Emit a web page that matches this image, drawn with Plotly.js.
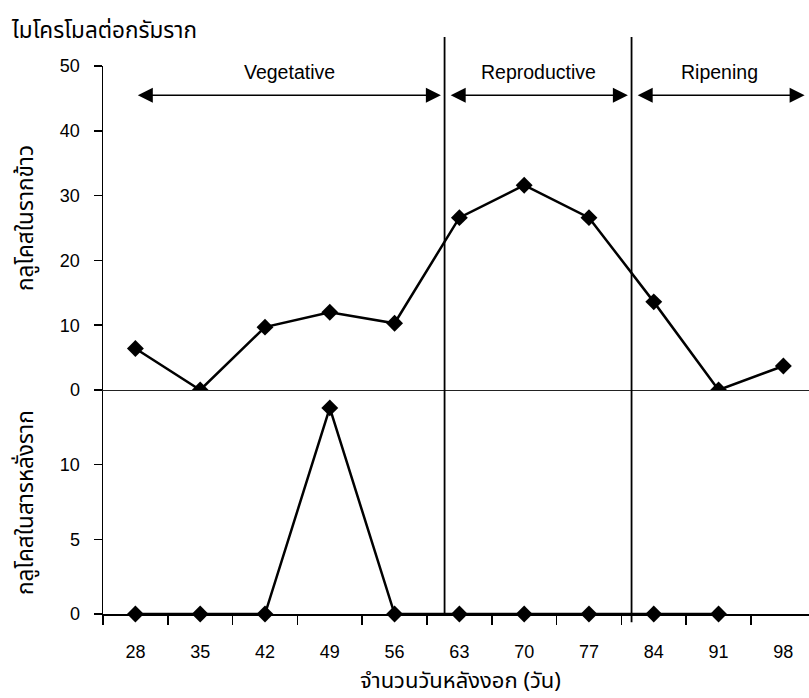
<!DOCTYPE html>
<html>
<head>
<meta charset="utf-8">
<script src="https://cdn.plot.ly/plotly-3.0.1.min.js"></script>
<style>html,body{margin:0;padding:0;background:#fff}#chart{width:809px;height:698px}</style>
</head>
<body>
<div id="chart"></div>
<script>
// ---- data ----
const daysRoot = [28, 35, 42, 49, 56, 63, 70, 77, 84, 91, 98];
const glucoseRoot = [6.4, 0, 9.7, 12.0, 10.3, 26.6, 31.6, 26.6, 13.6, 0, 3.7];
const daysExudate = [28, 35, 42, 49, 56, 63, 70, 77, 84, 91];
const glucoseExudate = [0, 0, 0, 13.8, 0, 0, 0, 0, 0, 0];
const xTickVals = [28, 35, 42, 49, 56, 63, 70, 77, 84, 91, 98];
const topTickVals = [0, 10, 20, 30, 40, 50];
const bottomTickVals = [0, 5, 10];
const phaseNames = ['Vegetative', 'Reproductive', 'Ripening'];
const phaseStart = [28, 61.4, 81.6];
const phaseEnd = [61.4, 81.6, 100.7];
const boundaries = [61.4, 81.6];

const mainTitle = 'ไมโครโมลต่อกรัมราก';
const topYTitle = 'กลูโคสในรากข้าว';
const bottomYTitle = 'กลูโคสในสารหลั่งราก';
const xTitle = 'จำนวนวันหลังงอก (วัน)';

// ---- styling ----
const latin = 'Liberation Sans, Arial, sans-serif';
const thai = 'Noto Sans Thai, Noto Sans, DejaVu Sans, sans-serif';
const black = '#000';
const split = 224 / 548;
const thaiSize = 22.5;

const markerStyle = {symbol: 'diamond', size: 13, color: black};
const lineStyle = {color: black, width: 2.5};

const traces = [
  {x: daysRoot, y: glucoseRoot, xaxis: 'x2', yaxis: 'y2', mode: 'lines+markers',
   line: lineStyle, marker: markerStyle, showlegend: false, hoverinfo: 'x+y'},
  {x: daysExudate, y: glucoseExudate, xaxis: 'x', yaxis: 'y', mode: 'lines+markers',
   line: lineStyle, marker: markerStyle, showlegend: false, hoverinfo: 'x+y', cliponaxis: false}
];

const xRange = [24.5, 100.77];

const annotations = [];
phaseNames.forEach((name, i) => {
  const a0 = i === 0 ? phaseStart[i] + 0.1 : phaseStart[i] + 0.5;
  const a1 = phaseEnd[i] - 0.4;
  annotations.push({
    xref: 'x2', yref: 'y2', x: a1, y: 45.5, axref: 'x2', ayref: 'y2', ax: a0, ay: 45.5,
    text: '', showarrow: true, arrowhead: 2, startarrowhead: 2, arrowside: 'end+start',
    arrowsize: 2, startarrowsize: 2, arrowwidth: 1.5, arrowcolor: black, standoff: 0, startstandoff: 0
  });
  annotations.push({
    xref: 'x2', yref: 'y2', x: (phaseStart[i] + phaseEnd[i]) / 2, y: 49.1,
    xanchor: 'center', yanchor: 'middle',
    text: name, showarrow: false, font: {family: latin, size: 19.5, color: black}
  });
});
annotations.push({xref: 'paper', yref: 'paper', x: (26 - 103) / 706, y: (614 - 218) / 548,
  xanchor: 'center', yanchor: 'middle',
  text: topYTitle, textangle: -90, showarrow: false, font: {family: thai, size: thaiSize, color: black}});
annotations.push({xref: 'paper', yref: 'paper', x: (26 - 103) / 706, y: (614 - 503) / 548,
  xanchor: 'center', yanchor: 'middle',
  text: bottomYTitle, textangle: -90, showarrow: false, font: {family: thai, size: thaiSize, color: black}});
annotations.push({xref: 'paper', yref: 'paper', x: (460 - 103) / 706, y: -(681 - 614) / 548,
  xanchor: 'center', yanchor: 'middle',
  text: xTitle, showarrow: false, font: {family: thai, size: 22, color: black}});

const shapes = boundaries.map((b, i) => ({
  type: 'line', xref: 'x', yref: 'paper', x0: b, x1: b, y0: i === 1 ? -0.015 : 0, y1: 1 + 29 / 548,
  line: {color: black, width: 1.8}
}));

const layout = {
  width: 809, height: 698,
  margin: {l: 103, r: 0, t: 66, b: 84, pad: 0},
  paper_bgcolor: '#fff', plot_bgcolor: '#fff',
  title: {text: mainTitle, x: 12 / 809, xanchor: 'left', xref: 'container',
          y: 1 - 30 / 698, yanchor: 'middle', yref: 'container',
          font: {family: thai, size: thaiSize, color: black}},
  font: {family: latin, size: 18, color: black},
  xaxis: {
    domain: [0, 1], anchor: 'y', range: xRange, tickvals: xTickVals, ticks: '',
    showline: true, linecolor: black, linewidth: 1.5, showgrid: false, zeroline: false,
    tickfont: {family: latin, size: 18, color: black}, ticklabelstandoff: 21,
    minor: {tick0: 24.5, dtick: 7, ticks: 'outside', ticklen: 9, tickwidth: 1.5, tickcolor: black, showgrid: false}
  },
  yaxis: {
    domain: [0, split], anchor: 'x', range: [0, 15], tickvals: bottomTickVals,
    ticks: 'outside', ticklen: 8, tickwidth: 1.5, tickcolor: black,
    showline: true, linecolor: black, linewidth: 1.5, showgrid: false, zeroline: false,
    tickfont: {family: latin, size: 18, color: black}, ticklabelstandoff: 10
  },
  xaxis2: {
    domain: [0, 1], anchor: 'y2', range: xRange, matches: 'x', showticklabels: false, ticks: '',
    showline: true, linecolor: '#222', linewidth: 1, showgrid: false, zeroline: false
  },
  yaxis2: {
    domain: [split, 1], anchor: 'x2', range: [0, 50], tickvals: topTickVals,
    ticks: 'outside', ticklen: 8, tickwidth: 1.5, tickcolor: black,
    showline: true, linecolor: black, linewidth: 1.5, showgrid: false, zeroline: false,
    tickfont: {family: latin, size: 18, color: black}, ticklabelstandoff: 10
  },
  annotations: annotations,
  shapes: shapes
};

Plotly.newPlot('chart', traces, layout, {displayModeBar: false, staticPlot: true});
</script>
</body>
</html>
